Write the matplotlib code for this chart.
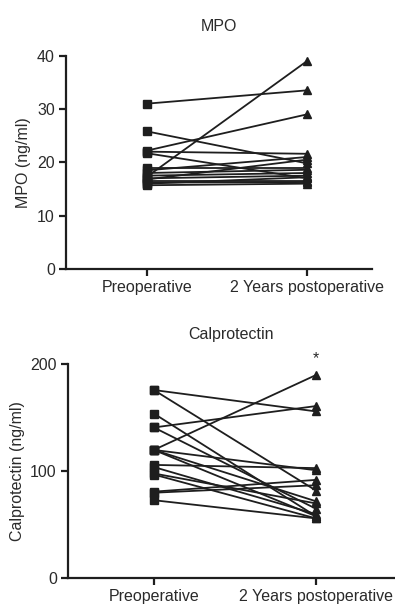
import matplotlib
matplotlib.use("Agg")
import matplotlib.pyplot as plt

plt.rcParams['font.family'] = ['Liberation Sans', 'DejaVu Sans']

categories = ["Preoperative", "2 Years postoperative"]

mpo_pre = [31.0, 25.8, 22.2, 22.0, 21.7, 17.3, 19.0, 18.5, 18.0, 17.5, 17.0, 16.5, 16.0, 15.7, 16.8, 16.2]
mpo_post = [33.5, 19.8, 29.0, 21.6, 17.0, 39.0, 19.0, 21.0, 18.6, 18.0, 17.5, 16.5, 17.2, 16.0, 20.5, 16.3]

cal_pre = [176, 176, 154, 141, 141, 120, 120, 120, 120, 106, 104, 98, 97, 81, 80, 73]
cal_post = [156, 82, 58, 161, 65, 190, 101, 72, 58, 103, 60, 70, 56, 92, 87, 56]

fig = plt.figure(figsize=(3.95, 6.05), dpi=100)
ax1 = fig.add_axes([0.167, 0.5554, 0.775, 0.3526])
ax2 = fig.add_axes([0.172, 0.0441, 0.825, 0.3537])

txt = '#2a2a2a'
lc = '#1e1e1e'
fs = 11.5

def style(ax, ylim, yticks, xlim, ylabel, title):
    for s in ['top', 'right']:
        ax.spines[s].set_visible(False)
    for s in ['left', 'bottom']:
        ax.spines[s].set_linewidth(1.6)
        ax.spines[s].set_color(lc)
    ax.set_ylim(*ylim)
    ax.set_xlim(*xlim)
    ax.set_yticks(yticks)
    ax.set_xticks([0, 1])
    ax.set_xticklabels(categories)
    ax.tick_params(axis='both', length=5, width=1.6, color=lc, labelsize=fs, labelcolor=txt, pad=3)
    ax.tick_params(axis='x', pad=3)
    ax.set_ylabel(ylabel, fontsize=fs, color=txt, labelpad=4)
    ax.set_title(title, fontsize=fs, color=txt, pad=18)

def draw(ax, pre, post):
    for a, b in zip(pre, post):
        ax.plot([0, 1], [a, b], color=lc, lw=1.3, zorder=2)
    ax.plot([0] * len(pre), pre, 's', color=lc, ms=6, zorder=3, clip_on=False)
    ax.plot([1] * len(post), post, '^', color=lc, ms=6, zorder=3, clip_on=False)

draw(ax1, mpo_pre, mpo_post)
style(ax1, (0, 40), [0, 10, 20, 30, 40], (-0.506, 1.406), "MPO (ng/ml)", "MPO")

draw(ax2, cal_pre, cal_post)
style(ax2, (0, 200), [0, 100, 200], (-0.53, 1.48), "Calprotectin (ng/ml)", "Calprotectin")
ax2.text(1, max(cal_post) + 8, "*", ha='center', va='bottom', fontsize=fs, color=txt)

fig.savefig("out.png", dpi=100)
